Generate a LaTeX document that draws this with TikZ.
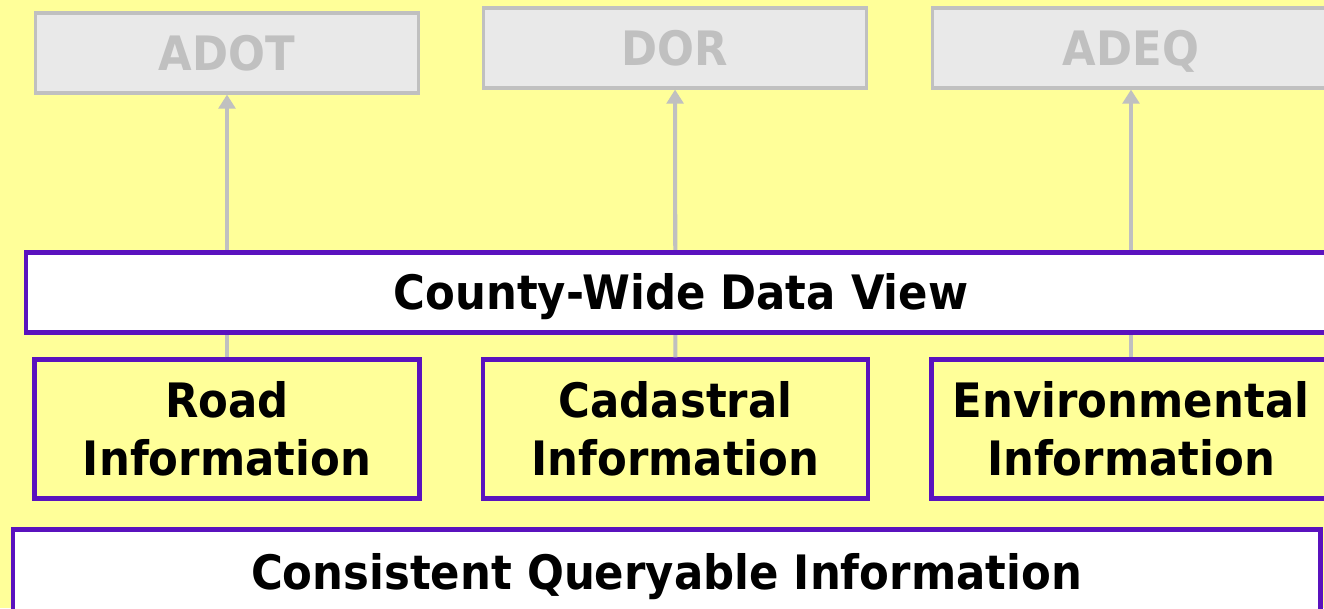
\documentclass[tikz,border=0pt]{standalone}
\usepackage{fontspec}
\setmainfont{DejaVu Sans}[FakeStretch=0.915]
\usetikzlibrary{arrows.meta}
\definecolor{bgyellow}{HTML}{FFFF99}
\definecolor{boxpurple}{HTML}{5A12BE}
\definecolor{agencygray}{HTML}{C0C0C0}
\definecolor{agencyfill}{HTML}{E9E9E9}
\begin{document}
\begin{tikzpicture} [
            x=0.02cm, y=-0.02cm,
            every node/.style={font=\bfseries\fontsize{27}{33}\selectfont},
            agency/.style={draw=agencygray,line width=1.8pt,fill=agencyfill,text=agencygray,
                minimum width=7.66cm,minimum height=1.6cm,text height=19.7pt,text depth=0pt},
            source/.style={draw=boxpurple,line width=2.4pt,align=center,
                minimum width=7.7cm,minimum height=2.78cm},
            layer/.style={draw=boxpurple,line width=2.4pt,fill=white,text height=19.7pt,text depth=0pt},
            feed/.style = {draw=agencygray,line width=2.3pt,-{Triangle[width=9.5pt,length=8pt]}},
        ]
        \fill[bgyellow] (0,0) rectangle (1324,608);
        \useasboundingbox (0,0) rectangle (1324,608);
        \clip (0,0) rectangle (1324,608);
        \foreach \pos/\name/\txt in {
                {(227,53)/adot/ADOT}, {(675,48)/dor/DOR}}
            \node[agency] (\name) at \pos {\txt};
        \node[agency,minimum width=7.94cm] (adeq) at (1131,48) {ADEQ};
        \foreach \pos/\name/\txt in {
                {(227,429)/road/Road\\Information}, {(675.5,429)/cadastral/Cadastral\\Information}}
            \node[source] (\name) at \pos {\txt};
        \node[source,minimum width=7.98cm] (environmental) at (1131,429) {Environmental\\Information};
        \foreach \source/ \dest in {
                road/adot,cadastral/dor,environmental/adeq}
            \path[feed] (\source) -- (\dest);
        \node[layer,minimum width=26.22cm,minimum height=1.6cm] (county) at (681,292.5) {County-Wide Data View};
        \node[layer,minimum width=26.16cm,minimum height=1.7cm] (consistent) at (666.5,572) {Consistent Queryable Information};
    \end{tikzpicture}
\end{document}
